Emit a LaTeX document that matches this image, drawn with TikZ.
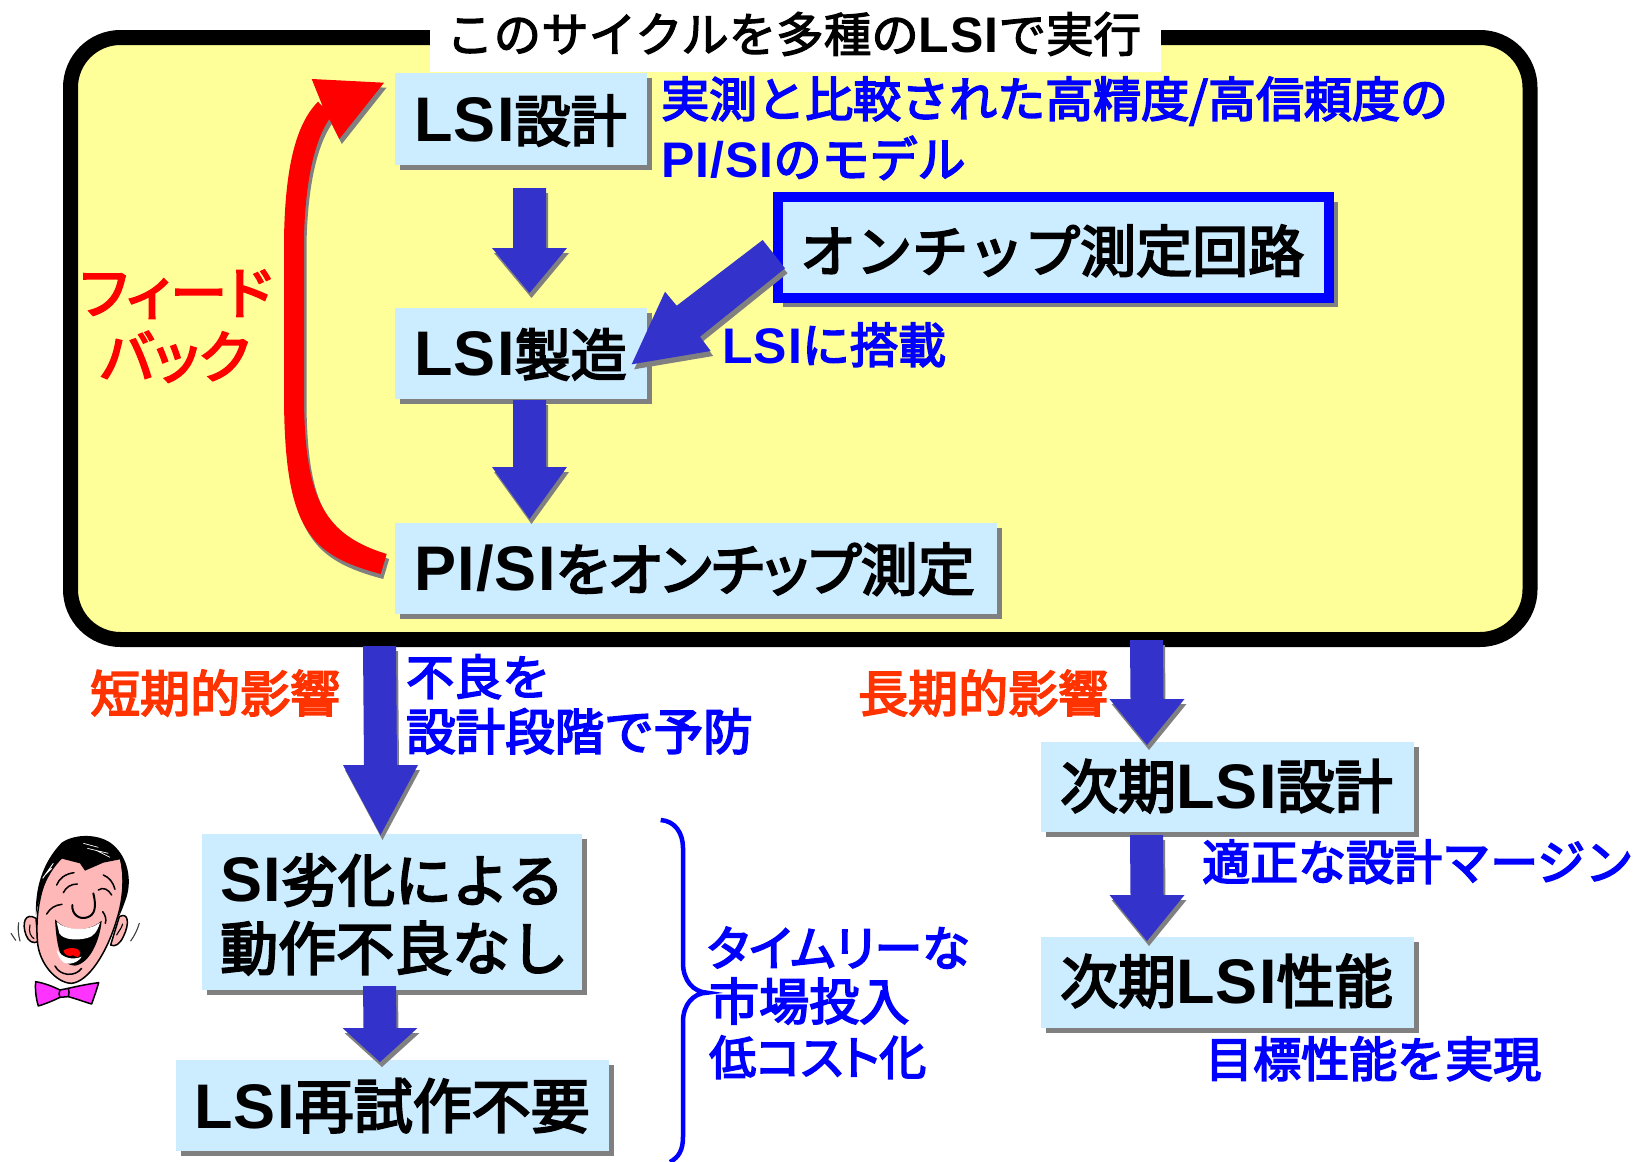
\documentclass[tikz,border=0pt]{standalone}
\usepackage{fontspec}
\usetikzlibrary{calc}
\setmainfont{Liberation Sans}
\newfontfamily\jp[FakeBold=3.5]{Noto Sans CJK JP}
\newfontfamily\jpp[FakeBold=3.5,RawFeature=+palt]{Noto Sans CJK JP}
\newfontfamily\jpt[FakeBold=2.5]{Noto Sans CJK JP}
\newfontfamily\lat[LetterSpace=2]{Liberation Sans}
\definecolor{panel}{HTML}{FFFF99}
\definecolor{boxfill}{HTML}{CCECFF}
\definecolor{arrowblue}{HTML}{3333CC}
\definecolor{dropgray}{HTML}{808080}
\definecolor{noteblue}{HTML}{0000FF}
\definecolor{impact}{HTML}{FF3300}
\definecolor{skin}{HTML}{FFB8B8}
\definecolor{tie}{HTML}{FF33FF}
% Latin runs inside the large and the small Japanese text
\newcommand\lb[1]{{\lat\bfseries\fontsize{63}{66}\selectfont #1}}
\newcommand\ls[1]{{\lat\bfseries\fontsize{50}{56}\selectfont #1}}
\tikzset{
  labelbase/.style={anchor=base west,inner sep=0pt},
  bigtext/.style={labelbase,font=\jp\fontsize{58}{60}\selectfont,text=black},
  midtext/.style={labelbase,font=\jp\fontsize{57}{60}\selectfont,text=black},
  chiptext/.style={labelbase,font=\jp\fontsize{56}{60}\selectfont,text=black},
  widetext/.style={labelbase,font=\jp\fontsize{59}{60}\selectfont,text=black},
  measuretext/.style={labelbase,font=\jpp\fontsize{57}{60}\selectfont,text=black},
  notetext/.style={labelbase,font=\jp\fontsize{48}{54}\selectfont,text=noteblue},
  midnote/.style={labelbase,font=\jp\fontsize{49.5}{54}\selectfont,text=noteblue},
  widenote/.style={labelbase,font=\jp\fontsize{50}{54}\selectfont,text=noteblue},
  propnote/.style={labelbase,font=\jpp\fontsize{48}{54}\selectfont,text=noteblue},
  tightnote/.style={labelbase,font=\jpp\fontsize{47}{54}\selectfont,text=noteblue},
  impacttext/.style={labelbase,font=\jp\fontsize{50}{54}\selectfont,text=impact},
  fbtext/.style={labelbase,font=\jpp\fontsize{57}{60}\selectfont,text=red},
  titletext/.style={labelbase,font=\jpt\fontsize{47.5}{54}\selectfont,text=black},
  boxshape/.style={fill=boxfill,draw=none,inner sep=0pt,outer sep=0pt},
  ink/.style={line width=1.1pt,draw=black,line cap=round,line join=round},
  faceline/.style={line width=1.5pt,draw=black,line cap=round,line join=round},
}
% Filled box with a dropped shadow: name, left, top, right, bottom
\newcommand\shadowbox[5]{%
  \fill[dropgray] (#2+5,#3+5) rectangle (#4+5,#5+5);
  \pgfmathsetlengthmacro\bw{(#4-#2)*1pt}\pgfmathsetlengthmacro\bh{(#5-#3)*1pt}%
  \node[boxshape,minimum width=\bw,minimum height=\bh] (#1) at ({(#2+#4)/2},{(#3+#5)/2}) {};
}
% Downward block arrow between two named points: start, tip, half shaft, half head, head length
\newcommand\blockdown[5]{%
  \foreach \ox/\oy/\col in {2/5/dropgray,0/0/arrowblue}{
    \fill[\col] ($(#1)+(\ox-#3,\oy)$) -- ($(#1)+(\ox+#3,\oy)$) -- ($(#2)+(\ox+#3,\oy-#5)$)
      -- ($(#2)+(\ox+#4,\oy-#5)$) -- ($(#2)+(\ox,\oy)$) -- ($(#2)+(\ox-#4,\oy-#5)$)
      -- ($(#2)+(\ox-#3,\oy-#5)$) -- cycle;
  }
}
\begin{document}
\begin{tikzpicture}[x=1pt,y=-1pt]
\useasboundingbox (0,0) rectangle (1634,1162);
\fill[white] (0,0) rectangle (1634,1162);

% cycle panel and its caption
\draw[line width=15pt,draw=black,fill=panel,rounded corners=50pt] (70.5,37.5) rectangle (1530,639.5);
\node[fill=white,inner sep=0pt,minimum width=731pt,minimum height=50pt] (captionbg) at (795.5,47) {};
\node[titletext] (caption) at (446,52) {このサイクルを多種の\ls{LSI}で実行};

% process boxes
\shadowbox{design}{395}{73}{647}{165}
\shadowbox{fab}{395}{308}{647}{399}
\shadowbox{measure}{395}{523}{997}{614}
\fill[dropgray] (782.7,201.7) rectangle (1338,307);
\node[boxshape,draw=noteblue,line width=10pt,minimum width=551.3pt,minimum height=100.8pt] (chip) at (1053.35,247.1) {};
\shadowbox{noerr}{202}{834}{582}{990}
\shadowbox{noretry}{176}{1060}{609}{1151}
\shadowbox{nextdesign}{1041}{742}{1414}{832}
\shadowbox{nextperf}{1041}{937}{1414}{1028}

% flow arrows
\coordinate (a1s) at (529.5,188); \coordinate (a1e) at (529.5,293);
\coordinate (a2s) at (529.5,400); \coordinate (a2e) at (529.5,519);
\coordinate (a3s) at (379.5,646); \coordinate (a3e) at (380.5,835);
\coordinate (a4s) at (379.5,986); \coordinate (a4e) at (380,1062);
\coordinate (a5s) at (1146.5,640); \coordinate (a5e) at (1147,745);
\coordinate (a6s) at (1146.5,835); \coordinate (a6e) at (1147,941);
\blockdown{a1s}{a1e}{16.5}{37.5}{45}
\blockdown{a2s}{a2e}{16.5}{37.5}{52}
\blockdown{a3s}{a3e}{16.5}{37.5}{70}
\blockdown{a4s}{a4e}{16.5}{37.5}{34}
\blockdown{a5s}{a5e}{16.5}{37.5}{46}
\blockdown{a6s}{a6e}{16.5}{37.5}{46}

% diagonal arrow from the on-chip circuit into fabrication
\foreach \ox/\oy/\col in {2.5/5/dropgray,0/0/arrowblue}{
  \fill[\col,shift={(\ox,\oy)}] (762.7,240) -- (785,268.3) -- (700,336.7) -- (710.7,351)
    -- (631.7,364.3) -- (665,291.7) -- (676.7,305.7) -- cycle;
}

% red feedback arrow
\foreach \ox/\oy/\col in {2.5/5/dropgray,0/0/red}{
  \fill[\col,shift={(\ox,\oy)}] (380.7,574) .. controls (310,555) and (285,530) .. (284,400)
    -- (284,240) .. controls (285,170) and (295,125) .. (318,101.7)
    -- (323,107) -- (311.7,79) -- (384,82.7) -- (339.3,139) -- (329.3,119)
    .. controls (315,140) and (305,180) .. (304,240) -- (304,400)
    .. controls (305,500) and (325,535) .. (386.7,554) -- cycle;
}

% brace
\draw[line width=4.5pt,noteblue] (660.7,820) .. controls (675,821) and (683,833) .. (683,848)
  -- (683,963) .. controls (683,980) and (693,992) .. (707,992.7)
  .. controls (693,993) and (683,1005) .. (683,1021.7)
  -- (683,1136.7) .. controls (683,1150) and (679,1157) .. (670,1162);

% box labels
\node[chiptext] (t1) at (414,141.7) {\lb{LSI}設計};
\node[chiptext] (t2) at (414,375.7) {\lb{LSI}製造};
\node[measuretext] (t3) at (414,590.7) {\lb{PI/SI}をオンチップ測定};
\node[chiptext] (t4) at (800,272) {オンチップ測定回路};
\node[midtext] (t5) at (220,901.7) {\lb{SI}劣化による};
\node[bigtext] (t6) at (220,970) {動作不良なし};
\node[widetext] (t7) at (194,1128) {\lb{LSI}再試作不要};
\node[bigtext] (t8) at (1060,808) {次期\lb{LSI}設計};
\node[bigtext] (t9) at (1060,1003) {次期\lb{LSI}性能};

% annotations
\node[notetext] (n1) at (661,117) {実測と比較された高精度/高信頼度の};
\node[notetext] (n2) at (661,177) {\ls{PI/SI}のモデル};
\node[notetext] (n3) at (722,363) {\ls{LSI}に搭載};
\node[notetext] (n4) at (406,695) {不良を};
\node[midnote] (n5) at (406,750) {設計段階で予防};
\node[notetext] (n6) at (1202,880) {適正な設計マージン};
\node[notetext] (n7) at (1205,1077) {目標性能を実現};
\node[propnote] (n8) at (707,966) {タイムリーな};
\node[widenote] (n9) at (709,1020) {市場投入};
\node[tightnote] (n10) at (709,1075) {低コスト化};
\node[impacttext] (s1) at (90,712) {短期的影響};
\node[impacttext] (s2) at (858,712) {長期的影響};
\node[fbtext] (f1) at (80,314) {フィード};
\node[fbtext] (f2) at (100,378) {バック};

% laughing face
\begin{scope}[shift={(0,800)},x=0.3333pt,y=-0.3333pt]
  \draw[faceline,fill=skin] (108,355) .. controls (75,335) and (65,370) .. (78,405) .. controls (85,425) and (100,432) .. (114,425) -- cycle;
  \draw[faceline,fill=skin] (358,350) .. controls (385,335) and (390,370) .. (370,410) .. controls (360,432) and (345,442) .. (332,435) -- cycle;
  \draw[ink] (90,375) .. controls (85,395) and (92,410) .. (102,416);
  \draw[ink] (368,372) .. controls (365,385) and (355,395) .. (350,405);
  \draw[faceline,fill=skin] (180,170) .. controls (130,220) and (105,320) .. (112,420)
    .. controls (115,490) and (170,550) .. (215,550)
    .. controls (265,545) and (320,460) .. (350,360)
    .. controls (370,300) and (375,230) .. (362,175) -- cycle;
  % hair
  \fill[black] (108,345) .. controls (105,270) and (125,190) .. (185,128)
    .. controls (225,100) and (300,100) .. (340,135)
    .. controls (385,175) and (395,240) .. (380,290)
    .. controls (370,320) and (362,340) .. (355,352)
    .. controls (370,300) and (372,230) .. (360,178)
    -- (310,188) -- (255,212) -- (240,190) -- (186,176)
    .. controls (145,215) and (118,280) .. (108,345) -- cycle;
  \draw[white,line width=0.7pt] (250,130) -- (295,142) (262,145) -- (325,160) (290,152) -- (330,172);
  \draw[white,line width=0.9pt] (128,235) -- (160,190) (135,225) -- (155,205);
  % eyes, nose and cheeks
  \draw[faceline] (170,255) .. controls (178,235) and (195,222) .. (222,218);
  \draw[faceline] (190,278) .. controls (198,262) and (212,252) .. (232,252);
  \draw[faceline] (310,225) .. controls (328,232) and (340,248) .. (345,268);
  \draw[faceline] (295,270) .. controls (310,260) and (325,268) .. (335,285);
  \draw[faceline,line width=2pt] (217,315) .. controls (215,345) and (240,360) .. (262,352) .. controls (285,345) and (290,320) .. (280,280);
  \draw[faceline] (140,342) .. controls (150,325) and (165,315) .. (186,313);
  \draw[faceline] (308,335) .. controls (316,345) and (320,358) .. (316,370);
  % mouth
  \fill[black] (165,358) .. controls (170,450) and (185,497) .. (225,497)
    .. controls (270,490) and (300,420) .. (305,362) .. controls (270,395) and (200,400) .. (165,358) -- cycle;
  \fill[white] (170,366) .. controls (200,392) and (265,395) .. (300,368)
    .. controls (292,395) and (280,410) .. (262,414) .. controls (230,422) and (190,420) .. (178,400) -- cycle;
  \fill[white] (170,448) .. controls (190,478) and (220,480) .. (245,470) .. controls (235,488) and (205,498) .. (188,485) .. controls (178,475) and (172,462) .. (170,448) -- cycle;
  \fill[red] (190,452) .. controls (205,440) and (240,442) .. (241,458) .. controls (240,475) and (228,472) .. (220,466) .. controls (208,470) and (195,468) .. (190,452) -- cycle;
  \draw[faceline] (165,498) .. controls (180,528) and (225,532) .. (245,505);
  % bow tie
  \draw[faceline,fill=tie] (107,545) .. controls (135,550) and (160,560) .. (180,570) -- (205,565)
    .. controls (235,558) and (265,552) .. (296,548) .. controls (290,570) and (282,592) .. (275,612)
    .. controls (250,605) and (228,596) .. (205,590) -- (180,592)
    .. controls (160,602) and (135,612) .. (115,618) .. controls (108,595) and (105,570) .. (107,545) -- cycle;
  \draw[faceline] (180,570) .. controls (176,578) and (176,586) .. (180,592) (205,565) .. controls (208,572) and (208,582) .. (205,590);
  % motion marks
  \draw[ink,black!75] (33,400) -- (47,421);
  \draw[ink,black!75] (56,368) .. controls (53,385) and (55,405) .. (60,423);
  \draw[ink,black!75] (418,370) .. controls (412,390) and (403,408) .. (392,423);
\end{scope}
\end{tikzpicture}
\end{document}
